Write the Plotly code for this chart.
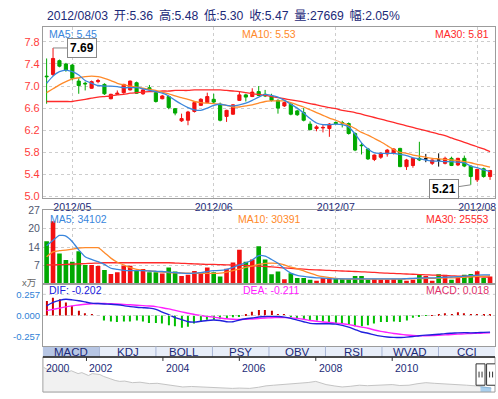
import datetime as dt
import plotly.graph_objects as go

# ---------------- data ----------------
dates = [
    "2012-04-24", "2012-04-25", "2012-04-26", "2012-04-27",
    "2012-05-02", "2012-05-03", "2012-05-04", "2012-05-07", "2012-05-08", "2012-05-09",
    "2012-05-10", "2012-05-11", "2012-05-14", "2012-05-15", "2012-05-16", "2012-05-17",
    "2012-05-18", "2012-05-21", "2012-05-22", "2012-05-23", "2012-05-24", "2012-05-25",
    "2012-05-28", "2012-05-29", "2012-05-30", "2012-05-31",
    "2012-06-01", "2012-06-04", "2012-06-05", "2012-06-06", "2012-06-07", "2012-06-08",
    "2012-06-11", "2012-06-12", "2012-06-13", "2012-06-14", "2012-06-15", "2012-06-18",
    "2012-06-19", "2012-06-20", "2012-06-21", "2012-06-25", "2012-06-26", "2012-06-27",
    "2012-06-28",
    "2012-07-02", "2012-07-03", "2012-07-04", "2012-07-05", "2012-07-06", "2012-07-09",
    "2012-07-10", "2012-07-11", "2012-07-12", "2012-07-13", "2012-07-16", "2012-07-17",
    "2012-07-18", "2012-07-19", "2012-07-20", "2012-07-23", "2012-07-24", "2012-07-25",
    "2012-07-26", "2012-07-27", "2012-07-30", "2012-07-31",
    "2012-08-01", "2012-08-02", "2012-08-03",
]
opens = [7.18, 7.21, 7.46, 7.40, 7.38, 7.09, 7.05, 6.96, 7.08, 7.03,
         6.77, 6.85, 6.88, 6.93, 7.06, 6.86, 6.97, 6.88, 6.77, 6.81,
         6.59, 6.37, 6.38, 6.54, 6.65, 6.70, 6.76, 6.67, 6.45, 6.49,
         6.74, 6.84, 6.81, 6.90, 6.85, 6.82, 6.74, 6.64, 6.67, 6.55,
         6.52, 6.31, 6.23, 6.24, 6.23, 6.34, 6.34, 6.32, 6.14, 5.93,
         5.86, 5.67, 5.71, 5.77, 5.78, 5.87, 5.54, 5.56, 5.69, 5.68,
         5.60, 5.66, 5.60, 5.69, 5.57, 5.69, 5.55, 5.30, 5.50, 5.36]
highs = [7.50, 7.69, 7.48, 7.42, 7.40, 7.14, 7.08, 7.10, 7.13, 7.05,
         6.86, 6.92, 7.04, 7.10, 7.08, 6.95, 7.02, 6.90, 6.84, 6.83,
         6.60, 6.50, 6.55, 6.72, 6.78, 6.88, 6.86, 6.70, 6.57, 6.67,
         6.90, 6.86, 6.96, 7.00, 6.93, 6.86, 6.76, 6.72, 6.69, 6.57,
         6.60, 6.36, 6.29, 6.30, 6.33, 6.36, 6.37, 6.34, 6.16, 5.97,
         5.88, 5.76, 5.80, 5.86, 5.87, 5.88, 5.68, 5.70, 5.99, 5.77,
         5.67, 5.78, 5.72, 5.72, 5.70, 5.74, 5.56, 5.50, 5.52, 5.48]
lows = [6.68, 7.18, 7.34, 7.26, 7.10, 6.86, 6.92, 6.95, 7.05, 6.84,
        6.76, 6.84, 6.86, 6.92, 6.86, 6.84, 6.90, 6.70, 6.76, 6.58,
        6.47, 6.35, 6.29, 6.52, 6.64, 6.69, 6.69, 6.36, 6.35, 6.48,
        6.73, 6.72, 6.80, 6.82, 6.80, 6.72, 6.50, 6.62, 6.47, 6.46,
        6.36, 6.20, 6.18, 6.16, 6.08, 6.30, 6.25, 6.12, 5.82, 5.76,
        5.66, 5.64, 5.68, 5.72, 5.76, 5.53, 5.48, 5.52, 5.64, 5.62,
        5.57, 5.54, 5.58, 5.55, 5.55, 5.53, 5.21, 5.26, 5.34, 5.30]
closes = [7.17, 7.50, 7.36, 7.29, 7.14, 7.01, 7.04, 7.08, 7.10, 6.86,
          6.85, 6.87, 7.03, 7.09, 6.87, 6.93, 6.94, 6.72, 6.82, 6.61,
          6.51, 6.41, 6.53, 6.70, 6.76, 6.81, 6.71, 6.38, 6.56, 6.66,
          6.84, 6.80, 6.89, 6.83, 6.82, 6.74, 6.60, 6.70, 6.49, 6.48,
          6.38, 6.21, 6.26, 6.25, 6.31, 6.32, 6.33, 6.14, 5.84, 5.92,
          5.68, 5.75, 5.78, 5.84, 5.86, 5.54, 5.66, 5.69, 5.66, 5.68,
          5.66, 5.66, 5.69, 5.56, 5.69, 5.55, 5.36, 5.49, 5.36, 5.47]
ma5 = [7.05, 7.18, 7.26, 7.29, 7.26, 7.20, 7.10, 7.05, 7.01, 7.00,
       7.00, 6.99, 6.97, 6.97, 6.97, 6.95, 6.92, 6.90, 6.87, 6.82,
       6.74, 6.67, 6.61, 6.57, 6.56, 6.60, 6.65, 6.67, 6.65, 6.64,
       6.66, 6.69, 6.74, 6.80, 6.85, 6.83, 6.80, 6.74, 6.67, 6.60,
       6.51, 6.41, 6.33, 6.30, 6.30, 6.31, 6.30, 6.26, 6.13, 5.97,
       5.86, 5.79, 5.78, 5.78, 5.78, 5.76, 5.74, 5.70, 5.68, 5.66,
       5.64, 5.64, 5.63, 5.63, 5.62, 5.61, 5.55, 5.52, 5.48, 5.45]
ma10 = [6.88, 6.95, 7.02, 7.08, 7.13, 7.15, 7.17, 7.18, 7.17, 7.14,
        7.10, 7.05, 7.02, 7.00, 6.98, 6.96, 6.94, 6.92, 6.89, 6.86,
        6.82, 6.79, 6.76, 6.72, 6.70, 6.69, 6.68, 6.67, 6.65, 6.62,
        6.62, 6.64, 6.66, 6.69, 6.72, 6.73, 6.73, 6.73, 6.70, 6.66,
        6.62, 6.57, 6.52, 6.47, 6.42, 6.38, 6.33, 6.29, 6.23, 6.16,
        6.11, 6.05, 5.99, 5.92, 5.85, 5.80, 5.78, 5.75, 5.73, 5.71,
        5.69, 5.68, 5.67, 5.66, 5.65, 5.63, 5.61, 5.58, 5.56, 5.53]
ma30 = [6.72, 6.72, 6.72, 6.72, 6.72, 6.74, 6.76, 6.78, 6.80, 6.81,
        6.82, 6.84, 6.85, 6.87, 6.88, 6.89, 6.90, 6.90, 6.91, 6.91,
        6.92, 6.92, 6.92, 6.93, 6.93, 6.93, 6.93, 6.93, 6.92, 6.91,
        6.90, 6.88, 6.86, 6.85, 6.83, 6.81, 6.79, 6.77, 6.75, 6.73,
        6.71, 6.68, 6.66, 6.63, 6.61, 6.59, 6.56, 6.54, 6.52, 6.49,
        6.46, 6.43, 6.40, 6.37, 6.34, 6.31, 6.28, 6.25, 6.22, 6.19,
        6.16, 6.13, 6.10, 6.06, 6.02, 5.98, 5.94, 5.90, 5.86, 5.81]
# volume in units of 万 (10,000)
volume = [15.7, 23.0, 11.2, 8.8, 8.2, 12.0, 7.0, 7.0, 6.6, 5.2,
          3.7, 4.3, 6.7, 6.7, 5.2, 5.5, 4.3, 4.3, 3.9, 6.1,
          4.6, 3.0, 3.4, 4.8, 4.3, 6.1, 4.3, 2.8, 5.6, 7.9,
          12.6, 8.2, 9.0, 13.8, 9.0, 3.6, 4.6, 1.8, 4.0, 2.2,
          2.2, 1.6, 1.2, 2.2, 2.2, 2.2, 1.8, 1.8, 3.0, 3.0,
          1.6, 1.8, 1.6, 1.6, 1.8, 1.8, 1.2, 1.6, 3.4, 3.0,
          1.2, 3.6, 3.4, 1.6, 2.2, 3.4, 3.7, 4.7, 2.2, 2.7669]
vol_ma5 = [14.0, 16.0, 17.8, 17.5, 15.5, 12.5, 10.0, 9.0, 8.2, 7.2,
           5.8, 5.4, 5.0, 4.9, 4.9, 4.9, 4.8, 4.7, 4.6, 4.4,
           4.2, 4.0, 3.9, 4.0, 4.2, 4.6, 4.9, 5.0, 5.4, 6.1,
           7.0, 7.8, 8.8, 10.4, 10.2, 9.0, 7.6, 5.6, 4.0, 3.2,
           2.8, 2.5, 2.3, 2.2, 2.0, 1.9, 1.9, 1.9, 1.9, 1.9,
           1.9, 1.9, 1.9, 1.9, 1.9, 1.9, 2.0, 2.1, 2.2, 2.3,
           2.3, 2.4, 2.5, 2.6, 2.7, 2.9, 3.1, 3.3, 3.4, 3.4102]
vol_ma10 = [10.0, 11.8, 12.2, 12.4, 12.8, 13.2, 13.3, 13.3, 13.3, 11.5,
            9.5, 8.0, 7.0, 6.0, 5.4, 5.0, 4.8, 4.6, 4.4, 4.2,
            4.1, 4.1, 4.0, 3.9, 3.9, 3.9, 3.9, 4.0, 4.4, 4.9,
            5.5, 6.1, 6.6, 7.2, 7.6, 7.7, 7.6, 7.0, 6.2, 5.6,
            4.8, 4.0, 3.2, 2.7, 2.4, 2.1, 1.9, 1.8, 1.8, 1.8,
            1.8, 1.8, 1.8, 1.8, 1.8, 1.8, 1.9, 2.0, 2.0, 2.1,
            2.1, 2.2, 2.3, 2.3, 2.4, 2.5, 2.6, 2.8, 2.9, 3.0391]
vol_ma30 = [7.0, 7.0, 7.1, 7.2, 7.3, 7.4, 7.5, 7.6, 7.7, 7.8,
            7.8, 7.8, 7.8, 7.8, 7.8, 7.8, 7.8, 7.8, 7.8, 7.8,
            7.7, 7.6, 7.5, 7.4, 7.3, 7.2, 7.2, 7.1, 7.0, 7.0,
            6.9, 6.8, 6.7, 6.6, 6.5, 6.3, 6.1, 5.9, 5.8, 5.6,
            5.5, 5.3, 5.2, 5.1, 5.0, 4.9, 4.8, 4.7, 4.6, 4.5,
            4.4, 4.3, 4.1, 4.0, 3.9, 3.8, 3.7, 3.6, 3.5, 3.4,
            3.3, 3.2, 3.1, 3.0, 2.95, 2.9, 2.8, 2.7, 2.6, 2.5553]
dif = [0.118, 0.160, 0.184, 0.197, 0.190, 0.180, 0.165, 0.150, 0.145, 0.140,
       0.137, 0.130, 0.120, 0.108, 0.100, 0.095, 0.090, 0.075, 0.040, 0.010,
       -0.025, -0.050, -0.075, -0.080, -0.070, -0.060, -0.055, -0.060, -0.075, -0.075,
       -0.055, -0.040, -0.030, -0.018, -0.012, -0.010, -0.012, -0.020, -0.035, -0.055,
       -0.075, -0.095, -0.100, -0.100, -0.100, -0.105, -0.120, -0.140, -0.170, -0.200,
       -0.215, -0.235, -0.250, -0.260, -0.265, -0.267, -0.262, -0.255, -0.245, -0.238,
       -0.234, -0.228, -0.220, -0.215, -0.210, -0.207, -0.210, -0.208, -0.205, -0.202]
dea = [0.059, 0.075, 0.090, 0.105, 0.117, 0.128, 0.137, 0.143, 0.145, 0.145,
       0.143, 0.140, 0.135, 0.130, 0.125, 0.120, 0.115, 0.108, 0.095, 0.080,
       0.062, 0.045, 0.028, 0.012, 0.000, -0.010, -0.020, -0.030, -0.040, -0.045,
       -0.048, -0.045, -0.042, -0.036, -0.030, -0.027, -0.025, -0.025, -0.028, -0.035,
       -0.045, -0.060, -0.070, -0.078, -0.085, -0.092, -0.100, -0.110, -0.125, -0.140,
       -0.155, -0.175, -0.192, -0.205, -0.218, -0.228, -0.236, -0.242, -0.245, -0.245,
       -0.244, -0.240, -0.235, -0.230, -0.226, -0.222, -0.218, -0.216, -0.213, -0.211]
macd_hist = [0.177, 0.216, 0.196, 0.157, 0.118, 0.059, 0.027, 0.012, 0.003, -0.059,
             -0.071, -0.079, -0.071, -0.071, -0.059, -0.071, -0.090, -0.090, -0.098, -0.118,
             -0.130, -0.149, -0.137, -0.098, -0.071, -0.051, -0.051, -0.039, -0.039, -0.020,
             -0.010, 0.005, 0.047, 0.066, 0.066, 0.059, 0.020, 0.008, -0.020, -0.039,
             -0.051, -0.059, -0.059, -0.071, -0.090, -0.090, -0.098, -0.106, -0.130, -0.130,
             -0.118, -0.098, -0.079, -0.079, -0.071, -0.079, -0.059, -0.027, -0.012, -0.002,
             0.004, 0.006, 0.027, 0.020, 0.039, 0.027, 0.020, 0.020, 0.018, 0.018]
price_ticks = [5.0, 5.4, 5.8, 6.2, 6.6, 7.0, 7.4, 7.8]
vol_ticks = [6.75, 13.5, 20.25, 27.0]
vol_tick_labels = ["7", "14", "20", "27"]
macd_ticks = [0.257, 0.0, -0.257]
macd_tick_labels = ["0.257", "0.000", "-0.257"]
indicator_tabs = ["MACD", "KDJ", "BOLL", "PSY", "OBV", "RSI", "WVAD", "CCI"]
nav_years = [2000.88, 2000.98, 2001.06, 2001.15, 2001.24, 2001.33, 2001.42, 2001.50, 2001.60, 2001.70,
             2001.78, 2001.88, 2001.97, 2002.05, 2002.15, 2002.25, 2002.35, 2002.45, 2002.55, 2002.62,
             2002.75, 2002.87, 2003.00, 2003.20, 2003.40, 2003.65, 2003.85, 2004.09, 2004.30, 2004.52,
             2004.75, 2004.96, 2005.20, 2005.39, 2005.60, 2005.82, 2006.00, 2006.18, 2006.27, 2006.50,
             2006.70, 2006.90, 2007.13, 2007.35, 2007.57, 2007.80, 2008.00, 2008.12, 2008.27, 2008.50,
             2008.69, 2008.90, 2009.14, 2009.35, 2009.57, 2009.80, 2010.00, 2010.20, 2010.44, 2010.65,
             2010.88, 2011.10, 2011.31, 2011.50, 2011.75, 2011.95, 2012.18, 2012.31, 2012.40, 2012.48,
             2012.56, 2012.59]
nav_prices = [18.5, 17.2, 17.9, 16.4, 16.9, 15.8, 16.2, 15.4, 16.4, 15.6,
              14.6, 15.2, 14.3, 13.4, 14.6, 14.2, 14.0, 12.8, 12.2, 11.4,
              10.3, 9.7, 9.9, 8.9, 9.2, 8.3, 8.5, 7.7, 7.2, 6.2,
              6.5, 6.2, 5.9, 5.6, 5.4, 5.3, 5.5, 5.6, 5.3, 6.0,
              6.9, 7.3, 7.7, 8.0, 8.3, 9.0, 9.7, 8.6, 7.7, 6.8,
              6.2, 6.6, 7.3, 7.0, 7.3, 7.5, 7.7, 7.1, 7.3, 8.2,
              8.9, 8.5, 8.3, 8.0, 7.7, 7.3, 6.9, 6.3, 6.1, 5.8,
              5.6, 5.5]
nav_tick_years = [2000, 2002, 2004, 2006, 2008, 2010]

# ---------------- styling / layout helpers ----------------
W, H = 498, 399
FONT = "Liberation Sans, Arial, Noto Sans CJK SC, sans-serif"
RED, GREEN = "#f21010", "#00a800"
NAVY = "#1c2a78"
C_MA5, C_MA10, C_MA30 = "#3a86dc", "#ff8a2a", "#ff2a2a"
C_DIF, C_DEA = "#2020dc", "#ff20ff"
GRID = "#cdcdcd"
BORDER = "#9c9c9c"

L, R = 43, 496
PRICE_T, PRICE_B = 22, 197
VOL_T, VOL_B = 210, 286
MACD_T, MACD_B = 286, 350
TAB_T, TAB_B = 350, 361
NAV_T, NAV_B = 361, 397


def fx(p):
    return p / W


def fy(p):
    return 1 - p / H


n = len(dates)
xs = list(range(n))
x_range = [-0.575, n - 1 + 0.77]

month_idx = [i for i in range(1, n) if dates[i][5:7] != dates[i - 1][5:7]]
month_txt = [dates[i][:4] + "/" + dates[i][5:7] for i in month_idx]


def dec_year(s):
    d = dt.date.fromisoformat(s)
    start = dt.date(d.year, 1, 1)
    days = (dt.date(d.year + 1, 1, 1) - start).days
    return d.year + (d - start).days / days


fig = go.Figure()

# candlesticks (doji drawn separately in black)
main_i = [i for i in xs if opens[i] != closes[i]]
doji_i = [i for i in xs if opens[i] == closes[i]]
fig.add_trace(go.Candlestick(
    x=main_i, open=[opens[i] for i in main_i], high=[highs[i] for i in main_i],
    low=[lows[i] for i in main_i], close=[closes[i] for i in main_i],
    increasing=dict(line=dict(color=RED, width=1), fillcolor=RED),
    decreasing=dict(line=dict(color=GREEN, width=1), fillcolor=GREEN),
    whiskerwidth=0, hoverinfo="skip", xaxis="x", yaxis="y"))
fig.add_trace(go.Candlestick(
    x=doji_i, open=[opens[i] for i in doji_i], high=[highs[i] for i in doji_i],
    low=[lows[i] for i in doji_i], close=[closes[i] for i in doji_i],
    increasing=dict(line=dict(color="#000000", width=1), fillcolor="#000000"),
    decreasing=dict(line=dict(color="#000000", width=1), fillcolor="#000000"),
    whiskerwidth=0, hoverinfo="skip", xaxis="x", yaxis="y"))
for arr, col in ((ma30, C_MA30), (ma10, C_MA10), (ma5, C_MA5)):
    fig.add_trace(go.Scatter(x=xs, y=arr, mode="lines", line=dict(color=col, width=1.3, shape="spline", smoothing=0.6),
                             hoverinfo="skip", xaxis="x", yaxis="y"))

# volume
vol_colors = []
for i in xs:
    if closes[i] > opens[i]:
        vol_colors.append(RED)
    elif closes[i] < opens[i]:
        vol_colors.append(GREEN)
    else:
        vol_colors.append(RED if i > 0 and closes[i] > closes[i - 1] else GREEN)
fig.add_trace(go.Bar(x=xs, y=volume, marker=dict(color=vol_colors, line=dict(width=0)), width=0.72,
                     hoverinfo="skip", xaxis="x2", yaxis="y2"))
for arr, col in ((vol_ma30, C_MA30), (vol_ma10, C_MA10), (vol_ma5, C_MA5)):
    fig.add_trace(go.Scatter(x=xs, y=arr, mode="lines", line=dict(color=col, width=1.3, shape="spline", smoothing=0.6),
                             hoverinfo="skip", xaxis="x2", yaxis="y2"))

# MACD
hist_colors = ["#cc0000" if v >= 0 else "#00c000" for v in macd_hist]
fig.add_trace(go.Bar(x=xs, y=macd_hist, marker=dict(color=hist_colors, line=dict(width=0)), width=0.17,
                     hoverinfo="skip", xaxis="x3", yaxis="y3"))
fig.add_trace(go.Scatter(x=xs, y=dea, mode="lines", line=dict(color=C_DEA, width=1.4, shape="spline", smoothing=0.6),
                         hoverinfo="skip", xaxis="x3", yaxis="y3"))
fig.add_trace(go.Scatter(x=xs, y=dif, mode="lines", line=dict(color=C_DIF, width=1.4, shape="spline", smoothing=0.6),
                         hoverinfo="skip", xaxis="x3", yaxis="y3"))

# navigator
fig.add_trace(go.Scatter(x=nav_years, y=nav_prices, mode="lines", fill="tozeroy",
                         line=dict(color="#c4c4c4", width=1), fillcolor="#f1f1f1",
                         hoverinfo="skip", xaxis="x4", yaxis="y4"))
sel0, sel1 = dec_year(dates[0]), dec_year(dates[-1])
sx = [yv for yv in nav_years if sel0 - 0.01 <= yv <= sel1 + 0.01]
sy = [nav_prices[k] for k, yv in enumerate(nav_years) if sel0 - 0.01 <= yv <= sel1 + 0.01]
fig.add_trace(go.Scatter(x=sx, y=sy, mode="lines", fill="tozeroy", line=dict(color="#8ab8dc", width=1),
                         fillcolor="#a9cfee", hoverinfo="skip", xaxis="x4", yaxis="y4"))

axis_font = dict(family=FONT, size=10.5)
frame = dict(showline=True, mirror=True, linecolor=BORDER, linewidth=1, zeroline=False, ticks="")
fig.update_layout(
    width=W, height=H, margin=dict(l=0, r=0, t=0, b=0),
    paper_bgcolor="white", plot_bgcolor="white", showlegend=False, barmode="overlay",
    font=dict(family=FONT),
    xaxis=dict(domain=[fx(L), fx(R)], range=x_range, anchor="y", tickvals=month_idx, ticktext=month_txt,
               showgrid=True, gridcolor=GRID, griddash="3px,3px", tickfont=dict(axis_font, color=NAVY),
               rangeslider=dict(visible=False), **frame),
    yaxis=dict(domain=[fy(PRICE_B), fy(PRICE_T)], range=[4.979, 8.063], anchor="x", tickvals=price_ticks,
               ticktext=["%.1f" % v for v in price_ticks], showgrid=True, gridcolor=GRID, griddash="3px,3px",
               tickfont=dict(family=FONT, size=11, color="#ff3b3b"), **frame),
    xaxis2=dict(domain=[fx(L), fx(R)], range=x_range, anchor="y2", tickvals=month_idx, showticklabels=False,
                showgrid=True, gridcolor=GRID, griddash="3px,3px", **frame),
    yaxis2=dict(domain=[fy(VOL_B), fy(VOL_T)], range=[0, 27.0], anchor="x2", tickvals=vol_ticks,
                ticktext=vol_tick_labels, showgrid=True, gridcolor=GRID, griddash="3px,3px",
                tickfont=dict(axis_font, color="#4f5870"), **frame),
    xaxis3=dict(domain=[fx(L), fx(R)], range=x_range, anchor="y3", showticklabels=False, showgrid=False, **frame),
    yaxis3=dict(domain=[fy(MACD_B), fy(MACD_T)], range=[-0.374, 0.381], anchor="x3", tickvals=macd_ticks,
                ticktext=macd_tick_labels, showgrid=False, tickfont=dict(family=FONT, size=9.5, color="#2f7fd6"),
                **frame),
    xaxis4=dict(domain=[fx(L), fx(R)], range=[2000.86, 2012.69], anchor="y4", showticklabels=False,
                showgrid=False, showline=False, zeroline=False),
    yaxis4=dict(domain=[fy(NAV_B), fy(NAV_T)], range=[3, 25], anchor="x4", showticklabels=False,
                showgrid=False, showline=False, zeroline=False),
)

shapes = []
# MACD dashed guide lines
for v in (macd_ticks[0], 0.0):
    shapes.append(dict(type="line", xref="x3 domain", x0=0, x1=1, yref="y3", y0=v, y1=v,
                       line=dict(color=GRID, width=1, dash="3px,3px")))
# tab bar
tab_w = (R - L) / len(indicator_tabs)
shapes.append(dict(type="rect", xref="paper", yref="paper", x0=fx(L), x1=fx(R), y0=fy(TAB_B), y1=fy(TAB_T),
                   fillcolor="#e8eef9", line=dict(width=0), layer="below"))
shapes.append(dict(type="rect", xref="paper", yref="paper", x0=fx(L), x1=fx(L + tab_w), y0=fy(TAB_B), y1=fy(TAB_T),
                   fillcolor="#b7c6e4", line=dict(width=0), layer="below"))
for k in range(1, len(indicator_tabs)):
    xp = fx(L + k * tab_w)
    shapes.append(dict(type="line", xref="paper", yref="paper", x0=xp, x1=xp, y0=fy(TAB_B), y1=fy(TAB_T),
                       line=dict(color="#a7b5d6", width=1)))
# navigator frame
shapes.append(dict(type="rect", xref="paper", yref="paper", x0=fx(L), x1=fx(R), y0=fy(NAV_B), y1=fy(NAV_T),
                   line=dict(color=BORDER, width=1)))
shapes.append(dict(type="line", xref="paper", yref="paper", x0=fx(L), x1=fx(R), y0=fy(TAB_B), y1=fy(TAB_B),
                   line=dict(color="#222222", width=1.5)))
for yr in nav_tick_years[1:]:
    shapes.append(dict(type="line", xref="x4", yref="paper", x0=yr, x1=yr, y0=fy(TAB_B), y1=fy(TAB_B + 4),
                       line=dict(color="#333333", width=1)))
# navigator handles
for hx in (sel0, sel1):
    shapes.append(dict(type="rect", xref="x4", xsizemode="pixel", xanchor=hx, x0=-4.5, x1=4.5,
                       yref="paper", y0=fy(390), y1=fy(368), fillcolor="white",
                       line=dict(color="#333333", width=1)))
    for off in (-1.5, 1.5):
        shapes.append(dict(type="line", xref="x4", xsizemode="pixel", xanchor=hx, x0=off, x1=off,
                           yref="paper", y0=fy(382), y1=fy(376), line=dict(color="#333333", width=1)))
fig.update_layout(shapes=shapes)

ann = []


def label(x, y, text, color, size=10.5, anchor="left", bold=False):
    ann.append(dict(xref="paper", yref="paper", x=fx(x), y=fy(y), text=("<b>%s</b>" % text) if bold else text,
                    showarrow=False, xanchor=anchor, yanchor="middle",
                    font=dict(family=FONT, size=size, color=color)))


# title line
chg = (closes[-1] - closes[-2]) / closes[-2] * 100
sp = "\u00a0\u2009"
title = (dates[-1].replace("-", "/") + sp + "开:%.2f" % opens[-1] + sp + "高:%.2f" % highs[-1] + sp +
         "低:%.2f" % lows[-1] + sp + "收:%.2f" % closes[-1] + sp + "量:%d" % round(volume[-1] * 10000) + sp +
         "幅:%.2f%%" % chg)
label(45, 10, title, NAVY, size=12.2)

# panel legends
label(47, 28.5, "MA5: %.2f" % ma5[-1], C_MA5)
label(240, 28.5, "MA10: %.2f" % ma10[-1], C_MA10)
label(492, 28.5, "MA30: %.2f" % ma30[-1], C_MA30, anchor="right")
label(48, 219, "MA5: %d" % round(vol_ma5[-1] * 10000), C_MA5)
label(236, 219, "MA10: %d" % round(vol_ma10[-1] * 10000), C_MA10)
label(492, 219, "MA30: %d" % round(vol_ma30[-1] * 10000), C_MA30, anchor="right")
label(47, 292, "DIF: %.3f" % dif[-1], C_DIF)
label(241, 292, "DEA: %.3f" % dea[-1], C_DEA)
label(492, 292, "MACD: %.3f" % macd_hist[-1], "#e0306a", anchor="right")
label(38, 284, "x万", "#666666", size=9.5, anchor="right")

# tabs
for k, t in enumerate(indicator_tabs):
    label(L + (k + 0.5) * tab_w, (TAB_T + TAB_B) / 2 + 0.5, t, NAVY, size=11.5, anchor="center")

# navigator year labels
for yr in nav_tick_years:
    ann.append(dict(xref="x4", yref="paper", x=max(yr, 2000.86), y=fy(372), text=str(yr), showarrow=False,
                    xanchor="left", yanchor="middle", xshift=1,
                    font=dict(family=FONT, size=10.5, color=NAVY)))

# high / low markers
hi_i = max(xs, key=lambda i: highs[i])
lo_i = min(xs, key=lambda i: lows[i])
ann.append(dict(x=hi_i, y=highs[hi_i], xref="x", yref="y", text="<b>%.2f</b>" % highs[hi_i], showarrow=True,
                arrowhead=0, arrowwidth=1, arrowcolor="#888888", ax=29, ay=0, bgcolor="white",
                bordercolor="#888888", borderwidth=1, borderpad=2,
                font=dict(family=FONT, size=12, color="#000000")))
ann.append(dict(x=lo_i, y=lows[lo_i], xref="x", yref="y", text="<b>%.2f</b>" % lows[lo_i], showarrow=True,
                arrowhead=0, arrowwidth=1, arrowcolor="#888888", ax=-27, ay=4, bgcolor="white",
                bordercolor="#888888", borderwidth=1, borderpad=2,
                font=dict(family=FONT, size=12, color="#000000")))
fig.update_layout(annotations=ann)

fig.write_html("out.html", config={"displayModeBar": False},
               post_script="document.body.style.margin='0px';document.body.style.overflow='hidden';")
